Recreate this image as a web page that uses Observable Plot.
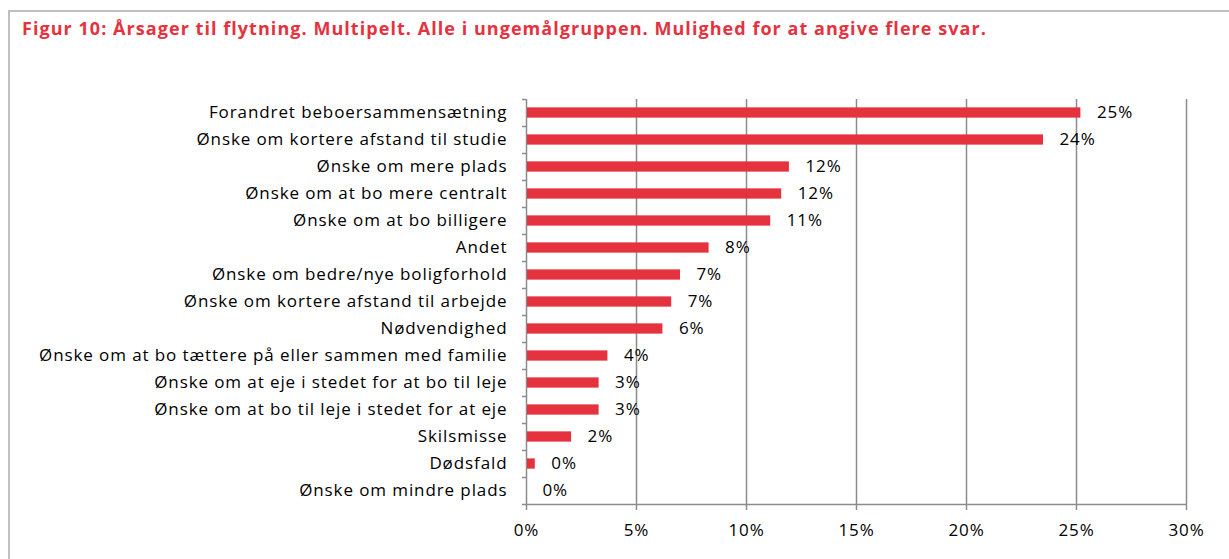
<!DOCTYPE html>
<html>
<head>
<meta charset="utf-8">
<script src="https://cdn.jsdelivr.net/npm/d3@7"></script>
<script src="https://cdn.jsdelivr.net/npm/@observablehq/plot@0.6"></script>
<style>
  html, body { margin: 0; padding: 0; background: #fff; }
  #wrap { position: relative; width: 1229px; height: 559px; overflow: hidden; }
  #frame { position: absolute; left: 8px; top: 10px; width: 1240px; height: 600px; border: 2px solid #bfbfbf; box-sizing: border-box; }
  #title { position: absolute; left: 22px; top: 19px; font-family: "Open Sans", sans-serif; font-weight: bold; font-size: 18px; line-height: 18px; letter-spacing: 1.05px; color: #e5323f; white-space: nowrap; }
  #chart { position: absolute; left: 0; top: 0; }
  #chart svg text { letter-spacing: 0.9px; }
</style>
</head>
<body>
<div id="wrap">
  <div id="frame"></div>
  <div id="title">Figur 10: Årsager til flytning. Multipelt. Alle i ungemålgruppen. Mulighed for at angive flere svar.</div>
  <div id="chart"></div>
</div>
<script>
const categories = [
  "Forandret beboersammensætning",
  "Ønske om kortere afstand til studie",
  "Ønske om mere plads",
  "Ønske om at bo mere centralt",
  "Ønske om at bo billigere",
  "Andet",
  "Ønske om bedre/nye boligforhold",
  "Ønske om kortere afstand til arbejde",
  "Nødvendighed",
  "Ønske om at bo tættere på eller sammen med familie",
  "Ønske om at eje i stedet for at bo til leje",
  "Ønske om at bo til leje i stedet for at eje",
  "Skilsmisse",
  "Dødsfald",
  "Ønske om mindre plads"
];
const values = [25.2, 23.5, 11.95, 11.6, 11.1, 8.3, 7.0, 6.6, 6.2, 3.7, 3.3, 3.3, 2.05, 0.4, 0];
const valueLabels = ["25%", "24%", "12%", "12%", "11%", "8%", "7%", "7%", "6%", "4%", "3%", "3%", "2%", "0%", "0%"];
const xTicks = [0, 5, 10, 15, 20, 25, 30];

const idx = d3.range(categories.length);
const font = "Open Sans, sans-serif";
const grey = "#8c8c8c";

const chart = Plot.plot({
  width: 1229,
  height: 559,
  marginLeft: 526,
  marginRight: 43,
  marginTop: 99,
  marginBottom: 55,
  style: { fontFamily: font, fontSize: "17px", color: "#000", background: "transparent" },
  x: { domain: [0, 30] },
  y: { domain: [0, categories.length], reverse: true },
  marks: [
    Plot.ruleX(xTicks, { stroke: grey, strokeWidth: 1.5 }),
    Plot.ruleY([categories.length], { stroke: grey, strokeWidth: 1.5 }),
    Plot.axisX({ ticks: xTicks, tickSize: 6, tickPadding: 13, stroke: grey, strokeWidth: 1.5, strokeOpacity: 1, tickFormat: d => d + "%", fontSize: 17, fill: "#000" }),
    Plot.axisY({ ticks: d3.range(categories.length + 1), tickSize: 4, stroke: grey, strokeWidth: 1.5, strokeOpacity: 1, tickFormat: () => "" }),
    Plot.axisY({ ticks: idx.map(i => i + 0.5), tickSize: 0, tickPadding: 19, tickFormat: d => categories[Math.floor(d)], fontSize: 17, fill: "#000" }),
    Plot.rectX(idx, { x1: 0, x2: i => values[i], y1: i => i + 0.31, y2: i => i + 0.69, fill: "#e5323f", insetLeft: 1 }),
    Plot.text(idx, { x: i => values[i], y: i => i + 0.5, text: i => valueLabels[i], textAnchor: "start", dx: 16, fontSize: 17, fill: "#000" })
  ]
});
document.getElementById("chart").appendChild(chart);
</script>
</body>
</html>
